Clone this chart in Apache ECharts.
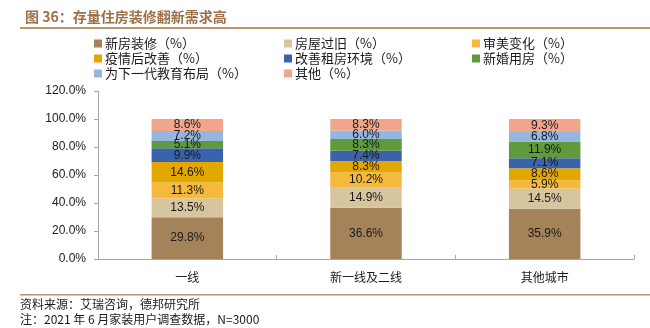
<!DOCTYPE html>
<html>
<head>
<meta charset="utf-8">
<script src="https://cdn.jsdelivr.net/npm/echarts@6/dist/echarts.min.js"></script>
<style>
  html, body { margin: 0; padding: 0; background: #fff; }
  #chart { width: 650px; height: 328px; }
</style>
</head>
<body>
<div id="chart"></div>
<script>
// City tiers on the x axis
const categories = ['一线', '新一线及二线', '其他城市'];

// Share of respondents by renovation motive (%), one value per city tier
const seriesNames = ['新房装修（%）', '房屋过旧（%）', '审美变化（%）', '疫情后改善（%）',
  '改善租房环境（%）', '新婚用房（%）', '为下一代教育布局（%）', '其他（%）'];
const newHome      = [29.8, 36.6, 35.9];
const oldHouse     = [13.5, 14.9, 14.5];
const aesthetic    = [11.3, 10.2, 5.9];
const postEpidemic = [14.6, 8.3, 8.6];
const rentalUpgrade= [9.9, 7.4, 7.1];
const wedding      = [5.1, 8.3, 11.9];
const education    = [7.2, 6.0, 6.8];
const other        = [8.6, 8.3, 9.3];
const seriesValues = [newHome, oldHouse, aesthetic, postEpidemic, rentalUpgrade, wedding, education, other];

const colors = ['#A5835A', '#D6C59F', '#F5B93C', '#E2A700', '#3B63AC', '#5F9A3D', '#94B6DF', '#F1A68B'];

const font = '"Noto Sans CJK SC", "Noto Sans", sans-serif';
const numFont = '"Liberation Sans", Arial, sans-serif';

const chart = echarts.init(document.getElementById('chart'), null, { renderer: 'canvas' });

const series = seriesNames.map((name, i) => ({
  name,
  type: 'bar',
  stack: 'total',
  barWidth: '40%',
  data: seriesValues[i],
  itemStyle: { color: colors[i] },
  label: {
    show: true,
    position: 'inside',
    color: '#1a1a1a',
    fontFamily: numFont,
    fontSize: 12,
    formatter: p => p.value.toFixed(1) + '%'
  }
}));

const legendCommon = {
  orient: 'vertical',
  itemWidth: 8,
  itemHeight: 8,
  itemGap: 0,
  icon: 'rect',
  top: 36,
  padding: 0,
  textStyle: { fontFamily: font, fontSize: 13, lineHeight: 15, color: '#1a1a1a', padding: [0, 0, 0, -2] }
};

chart.setOption({
  animation: false,
  color: colors,
  title: {
    text: '图 36：存量住房装修翻新需求高',
    left: 20,
    top: 5,
    textStyle: { fontFamily: font, fontSize: 14, fontWeight: 'bold', color: '#9C7148' }
  },
  legend: [
    Object.assign({}, legendCommon, { left: 94, data: [seriesNames[0], seriesNames[3], seriesNames[6]] }),
    Object.assign({}, legendCommon, { left: 284, data: [seriesNames[1], seriesNames[4], seriesNames[7]] }),
    Object.assign({}, legendCommon, { left: 472, data: [seriesNames[2], seriesNames[5]] })
  ],
  grid: { left: 98, right: 16, top: 91, bottom: 69 },
  xAxis: {
    type: 'category',
    data: categories,
    axisLine: { lineStyle: { color: '#A6A6A6', width: 1 } },
    axisTick: { show: true, inside: true, length: 4, lineStyle: { color: '#A6A6A6' } },
    axisLabel: { fontFamily: font, fontSize: 12, color: '#1a1a1a', margin: 12 }
  },
  yAxis: {
    type: 'value',
    min: 0,
    max: 120,
    interval: 20,
    splitLine: { show: false },
    axisLine: { show: true, lineStyle: { color: '#A6A6A6', width: 1 } },
    axisTick: { show: true, length: 4, lineStyle: { color: '#A6A6A6' } },
    axisLabel: {
      fontFamily: numFont,
      fontSize: 12,
      color: '#1a1a1a',
      margin: 12,
      formatter: v => v.toFixed(1) + '%'
    }
  },
  graphic: [
    { type: 'rect', shape: { x: 20, y: 27, width: 630, height: 2 }, style: { fill: '#B89573' } },
    { type: 'rect', shape: { x: 20, y: 294, width: 630, height: 1.5 }, style: { fill: '#B89573' } },
    { type: 'text', left: 20, top: 298, style: { text: '资料来源：艾瑞咨询，德邦研究所', font: '12px ' + font, fill: '#1a1a1a' } },
    { type: 'text', left: 20, top: 313, style: { text: '注：2021 年 6 月家装用户调查数据，N=3000', font: '12px ' + font, fill: '#1a1a1a' } }
  ],
  series
});
</script>
</body>
</html>
